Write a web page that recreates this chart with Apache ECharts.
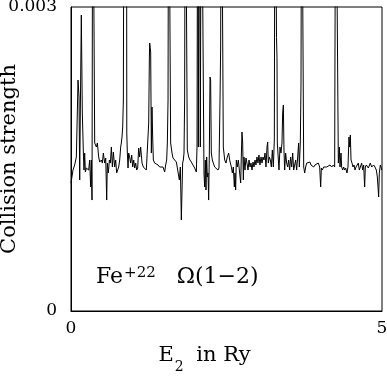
<!DOCTYPE html>
<html>
<head>
<meta charset="utf-8">
<script src="https://cdn.jsdelivr.net/npm/echarts@6/dist/echarts.min.js"></script>
<style>
html,body{margin:0;padding:0;background:#fff;}
#chart{width:387px;height:376px;}
</style>
</head>
<body>
<div id="chart"></div>
<script>
// Energy E2 (Ry)
const energy = [
 0, 0.032, 0.059, 0.086, 0.113, 0.129, 0.140, 0.150, 0.166, 0.182,
 0.199, 0.209, 0.220, 0.231, 0.247, 0.263, 0.284, 0.300, 0.316, 0.327,
 0.338, 0.349, 0.370, 0.381, 0.408, 0.424, 0.445, 0.461, 0.488, 0.504,
 0.520, 0.541, 0.558, 0.574, 0.584, 0.600, 0.617, 0.633, 0.649, 0.665,
 0.681, 0.702, 0.718, 0.734, 0.750, 0.767, 0.783, 0.799, 0.809, 0.820,
 0.831, 0.842, 0.852, 0.892, 0.897, 0.906, 0.917, 0.927, 0.943, 0.959,
 0.976, 0.992, 1.008, 1.024, 1.040, 1.056, 1.072, 1.088, 1.104, 1.120,
 1.142, 1.163, 1.185, 1.211, 1.238, 1.249, 1.260, 1.265, 1.281, 1.292,
 1.302, 1.313, 1.324, 1.345, 1.372, 1.399, 1.426, 1.452, 1.479, 1.506,
 1.522, 1.538, 1.549, 1.560, 1.570, 1.592, 1.602, 1.624, 1.640, 1.667,
 1.694, 1.720, 1.742, 1.758, 1.769, 1.774, 1.785, 1.795, 1.806, 1.817,
 1.827, 1.838, 1.860, 1.870, 1.892, 1.913, 1.935, 1.961, 1.988, 2.015,
 2.026, 2.037, 2.047, 2.063, 2.079, 2.095, 2.122, 2.138, 2.149, 2.160,
 2.170, 2.181, 2.192, 2.203, 2.213, 2.224, 2.235, 2.245, 2.256, 2.272,
 2.288, 2.310, 2.337, 2.363, 2.379, 2.396, 2.406, 2.417, 2.438, 2.449,
 2.471, 2.492, 2.513, 2.535, 2.551, 2.578, 2.594, 2.610, 2.626, 2.637,
 2.647, 2.658, 2.674, 2.690, 2.712, 2.728, 2.738, 2.749, 2.760, 2.771,
 2.781, 2.797, 2.813, 2.829, 2.846, 2.862, 2.878, 2.894, 2.910, 2.926,
 2.942, 2.958, 2.974, 2.990, 3.006, 3.022, 3.038, 3.055, 3.071, 3.087,
 3.103, 3.119, 3.135, 3.151, 3.162, 3.172, 3.189, 3.205, 3.221, 3.237,
 3.253, 3.269, 3.280, 3.296, 3.304, 3.312, 3.317, 3.328, 3.344, 3.360,
 3.376, 3.392, 3.403, 3.414, 3.424, 3.435, 3.451, 3.467, 3.483, 3.499,
 3.515, 3.531, 3.548, 3.564, 3.580, 3.596, 3.612, 3.628, 3.644, 3.660,
 3.671, 3.687, 3.698, 3.708, 3.730, 3.741, 3.757, 3.773, 3.789, 3.810,
 3.842, 3.858, 3.880, 3.901, 3.923, 3.950, 3.976, 3.998, 4.014, 4.025,
 4.041, 4.062, 4.084, 4.110, 4.137, 4.164, 4.191, 4.218, 4.239, 4.255,
 4.282, 4.298, 4.314, 4.325, 4.341, 4.351, 4.368, 4.384, 4.400, 4.416,
 4.437, 4.453, 4.469, 4.480, 4.491, 4.502, 4.518, 4.534, 4.550, 4.566,
 4.582, 4.598, 4.619, 4.635, 4.652, 4.673, 4.689, 4.705, 4.721, 4.732,
 4.748, 4.764, 4.780, 4.796, 4.812, 4.834, 4.850, 4.866, 4.887, 4.909,
 4.925, 4.936, 4.946, 4.957, 4.973, 4.984, 4.995
];

// Collision strength Omega(1-2)
const omega = [
 1.263e-3, 1.391e-3, 1.441e-3, 1.520e-3, 2.279e-3, 2.112e-3, 1.293e-3, 1.983e-3, 2.921e-3, 1.954e-3,
 1.559e-3, 1.391e-3, 1.559e-3, 1.372e-3, 1.411e-3, 1.421e-3, 1.391e-3, 1.490e-3, 1.224e-3, 1.490e-3,
 1.095e-3, 5e-3, 5e-3, 1.658e-3, 1.618e-3, 1.658e-3, 1.520e-3, 1.470e-3, 1.490e-3, 1.460e-3,
 1.559e-3, 1.460e-3, 1.510e-3, 1.095e-3, 1.460e-3, 1.362e-3, 1.490e-3, 1.460e-3, 1.618e-3, 1.421e-3,
 1.569e-3, 1.421e-3, 1.490e-3, 1.362e-3, 1.372e-3, 1.421e-3, 1.490e-3, 1.618e-3, 1.658e-3, 1.717e-3,
 1.816e-3, 2.082e-3, 5e-3, 5e-3, 1.757e-3, 1.559e-3, 1.411e-3, 1.559e-3, 1.520e-3, 1.460e-3,
 1.539e-3, 1.421e-3, 1.490e-3, 1.411e-3, 1.460e-3, 1.391e-3, 1.411e-3, 1.608e-3, 1.520e-3, 1.618e-3,
 1.460e-3, 1.421e-3, 1.411e-3, 1.391e-3, 1.372e-3, 1.855e-3, 2.497e-3, 2.645e-3, 2.556e-3, 1.559e-3,
 2.013e-3, 1.717e-3, 1.490e-3, 1.460e-3, 1.460e-3, 1.441e-3, 1.421e-3, 1.411e-3, 1.421e-3, 1.372e-3,
 1.441e-3, 1.490e-3, 1.658e-3, 2.082e-3, 5e-3, 5e-3, 1.658e-3, 1.559e-3, 1.510e-3, 1.490e-3,
 1.470e-3, 1.460e-3, 1.293e-3, 1.421e-3, 1.066e-3, 0.898e-3, 1.194e-3, 1.460e-3, 1.490e-3, 1.559e-3,
 2.082e-3, 5e-3, 5e-3, 1.589e-3, 1.520e-3, 1.490e-3, 1.470e-3, 1.441e-3, 1.411e-3, 1.372e-3,
 1.618e-3, 5e-3, 1.618e-3, 5e-3, 1.618e-3, 5e-3, 5e-3, 1.362e-3, 1.224e-3, 1.490e-3,
 1.194e-3, 1.520e-3, 1.322e-3, 1.362e-3, 1.095e-3, 1.559e-3, 2.309e-3, 2.279e-3, 1.559e-3, 1.490e-3,
 1.460e-3, 1.421e-3, 1.411e-3, 1.391e-3, 1.411e-3, 2.082e-3, 2.605e-3, 5e-3, 5e-3, 1.618e-3,
 1.490e-3, 1.460e-3, 1.520e-3, 1.559e-3, 1.490e-3, 1.421e-3, 1.362e-3, 1.421e-3, 1.224e-3, 1.362e-3,
 1.194e-3, 1.490e-3, 1.421e-3, 1.490e-3, 1.362e-3, 1.263e-3, 1.520e-3, 1.766e-3, 1.658e-3, 1.293e-3,
 1.520e-3, 1.391e-3, 1.510e-3, 1.460e-3, 1.391e-3, 1.490e-3, 1.421e-3, 1.460e-3, 1.391e-3, 1.470e-3,
 1.421e-3, 1.490e-3, 1.441e-3, 1.520e-3, 1.460e-3, 1.539e-3, 1.441e-3, 1.520e-3, 1.460e-3, 1.520e-3,
 1.490e-3, 1.559e-3, 1.421e-3, 1.618e-3, 1.668e-3, 1.460e-3, 1.520e-3, 1.490e-3, 1.421e-3, 1.589e-3,
 1.421e-3, 1.687e-3, 5e-3, 5e-3, 2.700e-3, 2.500e-3, 1.658e-3, 1.658e-3, 1.391e-3, 1.618e-3,
 1.559e-3, 1.658e-3, 1.954e-3, 2.033e-3, 1.589e-3, 1.391e-3, 1.559e-3, 1.460e-3, 1.421e-3, 1.490e-3,
 1.391e-3, 1.520e-3, 1.421e-3, 1.559e-3, 1.391e-3, 1.372e-3, 1.490e-3, 1.391e-3, 1.520e-3, 1.658e-3,
 1.421e-3, 1.668e-3, 2.250e-3, 5e-3, 5e-3, 1.421e-3, 1.362e-3, 1.421e-3, 1.460e-3, 1.441e-3,
 1.470e-3, 1.441e-3, 1.460e-3, 1.421e-3, 1.441e-3, 1.441e-3, 1.460e-3, 1.421e-3, 1.224e-3, 1.411e-3,
 1.391e-3, 1.421e-3, 1.411e-3, 1.421e-3, 1.411e-3, 1.441e-3, 1.421e-3, 1.441e-3, 1.421e-3, 5e-3,
 5e-3, 1.460e-3, 1.618e-3, 1.421e-3, 1.559e-3, 1.421e-3, 1.391e-3, 1.421e-3, 1.391e-3, 1.411e-3,
 1.362e-3, 1.421e-3, 1.717e-3, 1.618e-3, 1.737e-3, 1.490e-3, 1.460e-3, 1.421e-3, 1.441e-3, 1.391e-3,
 1.421e-3, 1.411e-3, 1.460e-3, 1.391e-3, 1.421e-3, 1.460e-3, 1.391e-3, 1.441e-3, 1.224e-3, 1.421e-3,
 1.441e-3, 1.460e-3, 1.411e-3, 1.421e-3, 1.460e-3, 1.421e-3, 1.411e-3, 1.441e-3, 1.421e-3, 1.391e-3,
 1.322e-3, 1.224e-3, 1.125e-3, 1.362e-3, 1.441e-3, 1.421e-3, 1.391e-3
];

const xTicks = [0, 5];
const yTicks = [0, 0.003];
const xLabel = 'E';
const yLabel = 'Collision strength';

const FONT = '"DejaVu Serif", "Liberation Serif", serif';
const chart = echarts.init(document.getElementById('chart'), null, {renderer: 'canvas'});
chart.setOption({
  animation: false,
  backgroundColor: '#fff',
  grid: {left: 71, right: 5, top: 7, bottom: 65, show: true, borderColor: '#000', borderWidth: 1,
         containLabel: false, outerBoundsMode: 'none'},
  xAxis: {
    type: 'value', min: xTicks[0], max: xTicks[1], interval: xTicks[1] - xTicks[0],
    axisLine: {show: true, lineStyle: {color: '#000', width: 1}},
    axisTick: {show: false}, splitLine: {show: false},
    axisLabel: {color: '#000', fontFamily: FONT, fontSize: 17, margin: 9},
    name: '{m|' + xLabel + '}{s|2}{m| in Ry}',
    nameLocation: 'middle', nameGap: 34, nameMoveOverlap: false,
    nameTextStyle: {
      padding: [0, 44, 0, 0],
      rich: {
        m: {fontFamily: FONT, fontSize: 21, color: '#000'},
        s: {fontFamily: FONT, fontSize: 14, color: '#000', verticalAlign: 'bottom', padding: [0, 6, -8, 1]}
      }
    }
  },
  yAxis: {
    type: 'value', min: yTicks[0], max: yTicks[1], interval: yTicks[1] - yTicks[0],
    axisLine: {show: true, lineStyle: {color: '#000', width: 1}},
    axisTick: {show: false}, splitLine: {show: false},
    axisLabel: {color: '#000', fontFamily: FONT, fontSize: 17, margin: 14,
      formatter: v => (v === 0 ? '0' : String(v))},
    name: yLabel, nameLocation: 'middle', nameGap: 51, nameMoveOverlap: false,
    nameTextStyle: {color: '#000', fontFamily: FONT, fontSize: 21}
  },
  graphic: [{
    type: 'text', left: 96, top: 266,
    style: {
      text: '{m|Fe}{p|+22}{m|   Ω(1−2)}',
      rich: {
        m: {fontFamily: FONT, fontSize: 22, fill: '#000'},
        p: {fontFamily: FONT, fontSize: 15, fill: '#000', verticalAlign: 'top', padding: [0, 0, 8, 1]}
      }
    }
  }],
  series: [{
    type: 'line',
    data: energy.map((x, i) => [x, omega[i]]),
    showSymbol: false, symbol: 'none', clip: true,
    lineStyle: {color: '#000', width: 1},
    silent: true
  }]
});
</script>
</body>
</html>
